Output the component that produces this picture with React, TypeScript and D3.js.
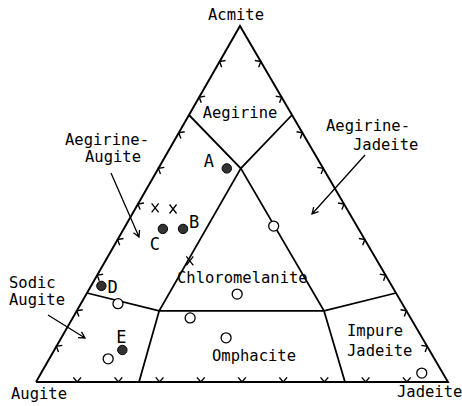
import React from 'react';
import * as d3 from 'd3';

// Vertices: Augite (bottom-left), Jadeite (bottom-right), Acmite (top)
const vertexNames = ['Augite', 'Jadeite', 'Acmite'];

// Field boundary polylines, as [Acmite fraction, Jadeite fraction]
const boundaryAegirine: [number, number][] = [[0.75, 0], [0.6, 0.2], [0.75, 0.25]];
const boundaryLeft: [number, number][] = [[0.6, 0.2], [0.2, 0.2], [0, 0.25]];
const boundaryRight: [number, number][] = [[0.6, 0.2], [0.2, 0.6], [0, 0.75]];
const boundaryMiddle: [number, number][] = [[0.25, 0], [0.2, 0.2], [0.2, 0.6], [0.25, 0.75]];

// Tick fractions along each edge
const tickFractions = [0.1, 0.2, 0.3, 0.4, 0.5, 0.6, 0.7, 0.8, 0.9];

// Filled (labelled) samples
const filledLabels = ['A', 'B', 'C', 'D', 'E'];
const filledAc = [0.6, 0.43, 0.43, 0.27, 0.09];
const filledJd = [0.166, 0.144, 0.095, 0.025, 0.165];

// Open circles
const openAc = [0.22, 0.18, 0.065, 0.438, 0.247, 0.124, 0.025];
const openJd = [0.09, 0.285, 0.143, 0.36, 0.366, 0.4, 0.924];

// Crosses
const crossAc = [0.489, 0.486, 0.34];
const crossJd = [0.047, 0.092, 0.205];

const W = 462;
const H = 406;
const FONT = '"DejaVu Sans Mono", monospace';

const xScale = d3.scaleLinear().domain([0, 1]).range([36, 448]);
const yScale = d3.scaleLinear().domain([0, 1]).range([382, 26]);
const apexFrac = (240 - 36) / 412;

function proj(ac: number, jd: number): [number, number] {
  return [xScale(jd + ac * apexFrac), yScale(ac)];
}

const line = d3.line<[number, number]>().x((d) => proj(d[0], d[1])[0]).y((d) => proj(d[0], d[1])[1]);

function chevron(vx: number, vy: number, inAngle: number, len = 6, half = 40): string {
  const a1 = ((inAngle - half) * Math.PI) / 180;
  const a2 = ((inAngle + half) * Math.PI) / 180;
  return `M${vx + len * Math.cos(a1)},${vy + len * Math.sin(a1)}L${vx},${vy}L${vx + len * Math.cos(a2)},${vy + len * Math.sin(a2)}`;
}

function arrow(x1: number, y1: number, x2: number, y2: number) {
  const ang = (Math.atan2(y1 - y2, x1 - x2) * 180) / Math.PI;
  return `M${x1},${y1}L${x2},${y2}` + chevron(x2, y2, ang, 7, 28);
}

export default function App() {
  const triangle: [number, number][] = [[0, 0], [0, 1], [1, 0], [0, 0]];
  const leftEdgeIn = (Math.atan2(0.497, 0.868) * 180) / Math.PI;
  const rightEdgeIn = 180 - leftEdgeIn;
  const ticks: string[] = [];
  tickFractions.forEach((f) => {
    const [lx, ly] = proj(f, 0);
    ticks.push(chevron(lx, ly, leftEdgeIn));
    const [rx, ry] = proj(f, 1 - f);
    ticks.push(chevron(rx, ry, rightEdgeIn));
    const [bx, by] = proj(0, f);
    ticks.push(chevron(bx, by, -90));
  });

  const labelOffsets: [number, number][] = [[-23, -1], [6, -1], [-13, 21], [6, 7], [-6, -7]];

  return (
    <svg width={W} height={H} style={{ position: 'absolute', left: 0, top: 0, background: '#fff' }} fontFamily={FONT}>
      <rect x={0} y={0} width={W} height={H} fill="#fff" />
      <path d={line(triangle) || ''} fill="none" stroke="#000" strokeWidth={1.9} strokeLinejoin="miter" />
      {[boundaryAegirine, boundaryLeft, boundaryRight, boundaryMiddle].map((b, i) => (
        <path key={i} d={line(b) || ''} fill="none" stroke="#000" strokeWidth={1.8} />
      ))}
      <path d={ticks.join('')} fill="none" stroke="#000" strokeWidth={1.4} />

      {/* annotation arrows */}
      <path d={arrow(111, 173, 139, 237)} fill="none" stroke="#000" strokeWidth={1.3} />
      <path d={arrow(365, 155, 312, 214)} fill="none" stroke="#000" strokeWidth={1.3} />
      <path d={arrow(48, 315, 85, 338)} fill="none" stroke="#000" strokeWidth={1.3} />

      {/* vertex and field labels */}
      <g fontSize={15.5} fill="#000">
        <text x={236} y={20} textAnchor="middle">{vertexNames[2]}</text>
        <text x={11} y={399}>{vertexNames[0]}</text>
        <text x={397} y={397}>{vertexNames[1]}</text>

        <text x={240} y={118} textAnchor="middle">Aegirine</text>
        <text x={65} y={145}>Aegirine-</text>
        <text x={85} y={162}>Augite</text>
        <text x={326} y={131}>Aegirine-</text>
        <text x={353} y={150}>Jadeite</text>
        <text x={9} y={288}>Sodic</text>
        <text x={9} y={305}>Augite</text>
        <text x={177} y={283}>Chloromelanite</text>
        <text x={212} y={361}>Omphacite</text>
        <text x={347} y={336}>Impure</text>
        <text x={347} y={356}>Jadeite</text>
      </g>

      {/* open circles */}
      {openAc.map((ac, i) => {
        const [x, y] = proj(ac, openJd[i]);
        return <circle key={'o' + i} cx={x} cy={y} r={5} fill="#fff" stroke="#000" strokeWidth={1.3} />;
      })}

      {/* crosses */}
      {crossAc.map((ac, i) => {
        const [x, y] = proj(ac, crossJd[i]);
        return (
          <path key={'x' + i} d={`M${x - 3.5},${y - 4.5}L${x + 3.5},${y + 4.5}M${x + 3.5},${y - 4.5}L${x - 3.5},${y + 4.5}`} stroke="#000" strokeWidth={1.3} />
        );
      })}

      {/* filled labelled samples */}
      {filledAc.map((ac, i) => {
        const [x, y] = proj(ac, filledJd[i]);
        return (
          <g key={'f' + i}>
            <circle cx={x} cy={y} r={4.7} fill="#333" stroke="#000" strokeWidth={1} />
            <text x={x + labelOffsets[i][0]} y={y + labelOffsets[i][1]} fontSize={17} fill="#000">{filledLabels[i]}</text>
          </g>
        );
      })}
    </svg>
  );
}
